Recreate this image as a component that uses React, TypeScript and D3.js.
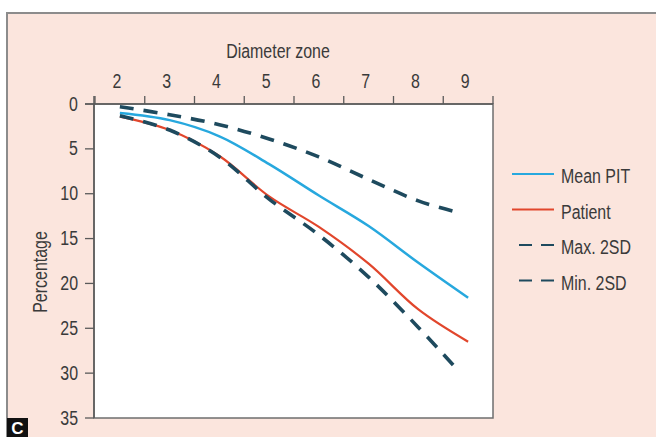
import React from "react";
import * as d3 from "d3";

const zones = [2, 3, 4, 5, 6, 7, 8, 9];
const meanPIT = [1.0, 1.8, 3.6, 6.7, 10.2, 13.6, 17.7, 21.6];
const patient = [1.4, 2.9, 5.8, 10.3, 13.7, 17.8, 22.9, 26.5];
const sdZones = [2, 3, 4, 5, 6, 7, 8, 8.8];
const max2SD = [0.3, 1.2, 2.3, 3.9, 5.9, 8.4, 10.8, 12.1];
const min2SD = [1.3, 2.9, 5.9, 10.6, 14.6, 19.3, 24.9, 29.7];
const yTicks = [0, 5, 10, 15, 20, 25, 30, 35];
const legendLabels = ["Mean PIT", "Patient", "Max. 2SD", "Min. 2SD"];

const W = 656;
const H = 437;
const FONT = "'Liberation Sans', Arial, sans-serif";
const BLUE = "#27a8de";
const RED = "#e1462c";
const DARK = "#1e4a5e";
const AXIS = "#5a5a5a";
const TXT = "#3a3a3a";

function NText(props: {
  x: number;
  y: number;
  anchor?: "start" | "middle" | "end";
  rotate?: number;
  size?: number;
  children: React.ReactNode;
}) {
  const { x, y, anchor = "start", rotate = 0, size = 21, children } = props;
  return (
    <g transform={`translate(${x},${y}) rotate(${rotate}) scale(0.76,1)`}>
      <text x={0} y={0} dy="0.36em" fontSize={size} textAnchor={anchor} fill={TXT}>
        {children}
      </text>
    </g>
  );
}

export default function App() {
  const left = 94, right = 493, top = 104, bottom = 418;
  const x = d3.scaleLinear().domain([1.5, 9.5]).range([left + 1, right]);
  const y = d3.scaleLinear().domain([0, 35]).range([top, bottom]);
  const line = d3
    .line<[number, number]>()
    .x((d) => x(d[0]))
    .y((d) => y(d[1]))
    .curve(d3.curveCatmullRom.alpha(0.5));

  const series = [
    { label: legendLabels[0], xs: zones, ys: meanPIT, color: BLUE, w: 2.5, dash: null },
    { label: legendLabels[1], xs: zones, ys: patient, color: RED, w: 2.2, dash: null },
    { label: legendLabels[2], xs: sdZones, ys: max2SD, color: DARK, w: 3.6, dash: "14 10" },
    { label: legendLabels[3], xs: sdZones, ys: min2SD, color: DARK, w: 3.6, dash: "14 10" },
  ];
  const xTickPos = d3.range(1.5, 10, 1);

  return (
    <svg
      width={W}
      height={H}
      style={{ position: "absolute", left: 0, top: 0 }}
      fontFamily={FONT}
    >
      <rect x={0} y={0} width={W} height={H} fill="#ffffff" />
      <rect x={7} y={13} width={W} height={H} fill="#fbe5dd" stroke="#8c8c8c" strokeWidth={2} />
      <rect x={left} y={top} width={right - left} height={bottom - top} fill="#ffffff" stroke="#6e6e6e" strokeWidth={1.5} />

      {/* top axis */}
      <line x1={85} x2={right} y1={top} y2={top} stroke={AXIS} strokeWidth={1.5} />
      {xTickPos.map((t) => (
        <line key={"xt" + t} x1={x(t)} x2={x(t)} y1={96} y2={top} stroke={AXIS} strokeWidth={1.3} />
      ))}
      {zones.map((z) => (
        <NText key={"xl" + z} x={x(z) - 3} y={80} anchor="middle">
          {z}
        </NText>
      ))}
      <NText x={278} y={50} anchor="middle">
        Diameter zone
      </NText>

      {/* left axis */}
      <line x1={left} x2={left} y1={96} y2={bottom} stroke={AXIS} strokeWidth={1.5} />
      {yTicks.map((t) => (
        <g key={"yt" + t}>
          <line x1={85} x2={left} y1={y(t)} y2={y(t)} stroke={AXIS} strokeWidth={1.3} />
          <NText x={78} y={y(t) - 1} anchor="end">
            {t}
          </NText>
        </g>
      ))}
      <NText x={39} y={272} anchor="middle" rotate={-90}>
        Percentage
      </NText>

      {/* series */}
      {series.map((s) => (
        <path
          key={s.label}
          d={line(s.xs.map((v, i) => [v, s.ys[i]] as [number, number])) || ""}
          fill="none"
          stroke={s.color}
          strokeWidth={s.w}
          strokeDasharray={s.dash || undefined}
          strokeLinecap="butt"
        />
      ))}

      {/* legend */}
      {series.map((s, i) => {
        const ly = 174 + i * 35.5;
        return (
          <g key={"lg" + s.label}>
            {s.dash ? (
              <line x1={519} x2={554} y1={ly} y2={ly} stroke={s.color} strokeWidth={2} strokeDasharray="13 9" />
            ) : (
              <line x1={512} x2={554} y1={ly} y2={ly} stroke={s.color} strokeWidth={2} />
            )}
            <NText x={561} y={ly + 1.5}>
              {s.label}
            </NText>
          </g>
        );
      })}

      {/* panel letter */}
      <rect x={7} y={418} width={21} height={19} fill="#111" />
      <text x={17.5} y={434} fontSize={17} fontWeight="bold" textAnchor="middle" fill="#fff">
        C
      </text>
    </svg>
  );
}
